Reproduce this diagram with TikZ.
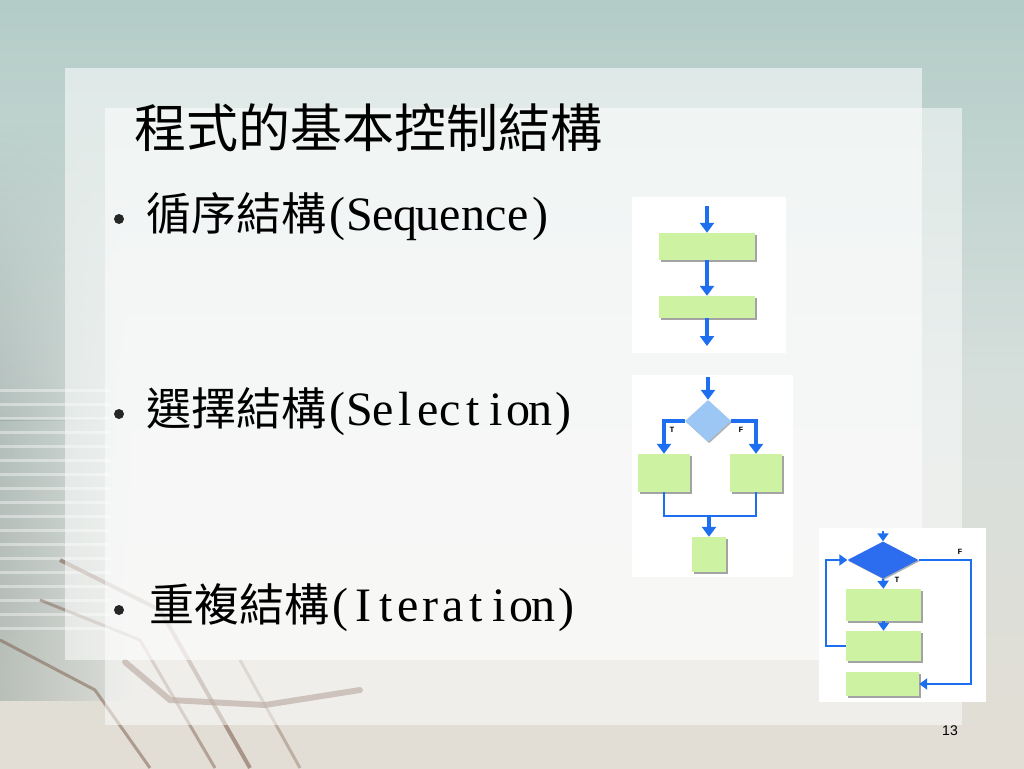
\documentclass[tikz,border=0pt]{standalone}
\usepackage{fontspec}
\setmainfont{Liberation Serif}
\newfontfamily\cjk{Noto Sans CJK TC}
\newfontfamily\sansf{Liberation Sans}
\newfontfamily\monof{Liberation Mono}
\usetikzlibrary{arrows.meta,shapes.geometric,shadows,fadings}
\definecolor{bgtop}{HTML}{B3CCC7}
\definecolor{bgmid}{HTML}{D6DFDC}
\definecolor{bgbot}{HTML}{E3DED5}
\definecolor{boxgreen}{HTML}{CDF3A2}
\definecolor{arrblue}{HTML}{1E6EF0}
\definecolor{diamlight}{HTML}{9CC6F4}
\definecolor{diamdark}{HTML}{2C6CEE}
\definecolor{trace}{HTML}{7A5A48}
\def\hwloop#1{\ifx#1\relax\else\makebox[22.6pt][c]{#1}\expandafter\hwloop\fi}
\newcommand\hw[1]{\hwloop#1\relax}
\tikzset{
  gbox/.style={rectangle,fill=boxgreen,inner sep=0pt,
    drop shadow={shadow xshift=1.5pt,shadow yshift=-1.5pt,fill=gray!80!black,opacity=0.6}},
  dia/.style={diamond,inner sep=0pt,aspect=1,
    drop shadow={shadow xshift=1.2pt,shadow yshift=-1.2pt,fill=gray,opacity=0.6}},
  arr/.style={draw=arrblue,line width=3.6pt,-{Triangle[width=14pt,length=10pt]}},
  arrthin/.style={draw=arrblue,line width=2.4pt,-{Triangle[width=11pt,length=8pt]}},
  plain/.style={draw=arrblue,line width=2.8pt},
  panelbox/.style={fill=white,inner sep=0pt},
  tf/.style={font=\monof\bfseries\fontsize{8}{8}\selectfont,inner sep=0pt},
  bodytext/.style={anchor=west,inner sep=0pt,font=\cjk\fontsize{45}{45}\selectfont},
  bulletdot/.style={circle,fill=black!85,inner sep=0pt,minimum size=10pt}
}
\begin{document}
\begin{tikzpicture}[x=1pt,y=-1pt]
\useasboundingbox (0,0) rectangle (1024,768);
% background
\shade[top color=bgtop,bottom color=bgbot,middle color=bgmid] (0,0) rectangle (1024,768);
\shade[left color=black!30!bgtop,right color=bgmid,opacity=0.4,path fading=north] (0,120) rectangle (130,420);
\shade[left color=black!30!bgtop,right color=bgmid,opacity=0.4] (0,419) rectangle (130,700);
\foreach \yy in {390,404,418,432,446,460,474,488,502,516,530,544,558,572,586,600,614,628}
  \draw[white,opacity=0.4,line width=3pt] (0,\yy) -- (110,\yy);
% circuit traces
\draw[trace,opacity=0.55,line width=4pt] (60,560) -- (160,610) -- (250,768);
\draw[trace,opacity=0.45,line width=3pt] (40,600) -- (140,640) -- (215,768);
\draw[trace,opacity=0.5,line width=3pt] (0,640) -- (95,690) -- (150,768);
\draw[trace,opacity=0.65,line width=6pt,line cap=round] (125,662) -- (170,700) -- (265,705) -- (360,690);
\draw[trace,opacity=0.35,line width=3pt] (240,660) -- (300,768);
% panels
\fill[white,opacity=0.55] (65,68) rectangle (922,660);
\fill[white,opacity=0.5] (105,108) rectangle (962,725);
% title
\node[anchor=west,inner sep=0pt,font=\cjk\fontsize{52}{52}\selectfont] (title) at (134,128) {程式的基本控制結構};
% bullets
\node[bulletdot] (d1) at (119,219) {};
\node[bodytext] (l1) at (146,217) {循序結構\rmfamily\fontsize{48}{48}\selectfont\hw{(Sequence)}};
\node[bulletdot] (d2) at (119,414) {};
\node[bodytext] (l2) at (146,412) {選擇結構\rmfamily\fontsize{48}{48}\selectfont\hw{(Selection)}};
\node[bulletdot] (d3) at (119,610) {};
\node[bodytext] (l3) at (149,608) {重複結構\rmfamily\fontsize{48}{48}\selectfont\hw{(Iteration)}};
% page number
\node[font=\sansf\fontsize{14}{14}\selectfont,inner sep=0pt] (pg) at (950,731) {13};

% ---- Sequence diagram ----
\node[panelbox,minimum width=154pt,minimum height=156pt] (seqbg) at (709,275) {};
\node[gbox,minimum width=96pt,minimum height=27pt] (s1) at (707,246.5) {};
\node[gbox,minimum width=96pt,minimum height=22pt] (s2) at (707,307) {};
\coordinate (sin) at (707,206);
\coordinate (sout) at (707,346);
\draw[arr] (sin) -- (s1.north);
\draw[arr] (s1.south) -- (s2.north);
\draw[arr] (s2.south) -- (sout);

% ---- Selection diagram ----
\node[panelbox,minimum width=161pt,minimum height=202pt] (selbg) at (712.5,476) {};
\node[dia,fill=diamlight,minimum width=46pt,minimum height=42pt] (dsel) at (708,421) {};
\node[gbox,minimum width=52pt,minimum height=38pt] (selL) at (664,473) {};
\node[gbox,minimum width=52pt,minimum height=38pt] (selR) at (756,473) {};
\node[gbox,minimum width=34pt,minimum height=35pt] (selB) at (709,554.5) {};
\coordinate (selin) at (708,377);
\coordinate (join) at (709,516);
\draw[arr] (selin) -- (dsel.north);
\draw[arr] (dsel.west) -| (selL.north);
\draw[arr] (dsel.east) -| (selR.north);
\draw[plain] (selL.south) |- (join) -| (selR.south);
\draw[arr] (join) -- (selB.north);
\node[tf] (selT) at (672,430) {T};
\node[tf] (selF) at (741,430) {F};

% ---- Iteration diagram ----
\node[panelbox,minimum width=167pt,minimum height=174pt] (itbg) at (902.5,615) {};
\node[dia,fill=diamdark,aspect=1.9,minimum width=71pt,minimum height=37pt] (dit) at (883,560) {};
\node[gbox,minimum width=75pt,minimum height=32pt] (it1) at (883.5,605) {};
\node[gbox,minimum width=75pt,minimum height=30pt] (it2) at (883.5,646) {};
\node[gbox,minimum width=73pt,minimum height=24pt] (it3) at (882.5,684) {};
\coordinate (itin) at (883,531);
\coordinate (loopc) at (826,646);
\coordinate (fc) at (971,560);
\draw[arrthin] (itin) -- (dit.north);
\draw[arrthin] (dit.south) -- (it1.north);
\draw[arrthin] (it1.south) -- (it2.north);
\draw[arrthin] (it2.west) -- (loopc) |- (dit.west);
\draw[arrthin] (dit.east) -- (fc) |- (it3.east);
\node[tf] (itT) at (897,580) {T};
\node[tf] (itF) at (960,552) {F};
\end{tikzpicture}
\end{document}
